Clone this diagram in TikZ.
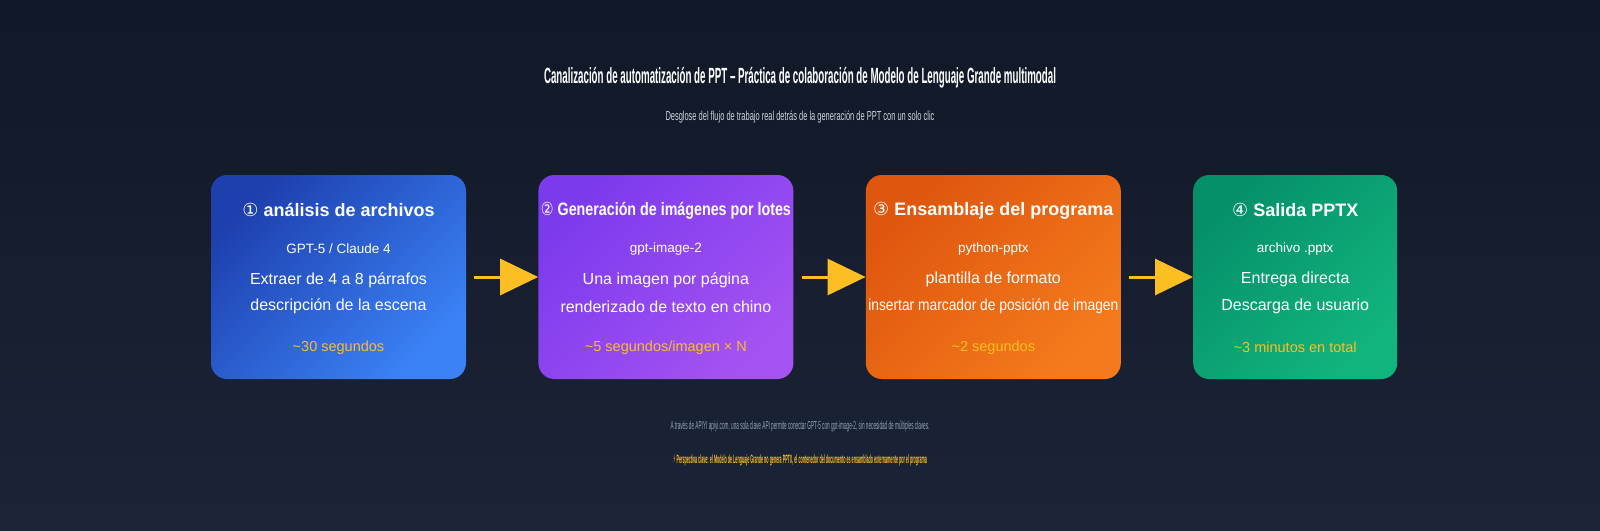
\documentclass[tikz,border=0pt]{standalone}
\usepackage{fontspec}
\setmainfont{Liberation Sans}
\newfontfamily\symfont{DejaVu Sans}
\usepackage{xcolor}
\usepackage{graphicx}
\usetikzlibrary{positioning,arrows.meta}
\definecolor{bgtop}{HTML}{111827}
\definecolor{bgbottom}{HTML}{1B2437}
\definecolor{blueA}{HTML}{1E40AF}
\definecolor{blueB}{HTML}{3B82F6}
\definecolor{purpleA}{HTML}{7C3AED}
\definecolor{purpleB}{HTML}{A452F2}
\definecolor{orangeA}{HTML}{DF560E}
\definecolor{orangeB}{HTML}{F47A1C}
\definecolor{greenA}{HTML}{05906A}
\definecolor{greenB}{HTML}{12B47E}
\definecolor{timecolor}{HTML}{FBBF24}
\definecolor{subcolor}{HTML}{CBD5E1}
\definecolor{notecolor}{HTML}{94A3B8}
% squeeze a line to a given width, height kept
\newcommand\squeeze[2]{\resizebox{#1}{\height}{#2}}
\newcommand\fitline[1]{\sbox0{#1}\ifdim\wd0>250pt \resizebox{250pt}{\height}{#1}\else #1\fi}
\newcommand\circnum[1]{{\symfont\mdseries #1}}
\tikzset{
    stage box/.style 2 args={rounded corners=16pt, minimum width=255pt, minimum height=204pt, inner sep=0pt, top color=#1, bottom color=#2, shading angle=45},
    stage title/.style={font=\bfseries\fontsize{18}{21}\selectfont, text=white},
    stage model/.style={font=\fontsize{13.5}{16}\selectfont, text=white!85},
    stage text/.style={font=\fontsize{16}{19}\selectfont, text=white},
    stage time/.style={font=\fontsize{14.5}{17}\selectfont, text=timecolor},
    flow arrow/.style={-{Triangle[length=38pt,width=36pt]}, line width=3pt, timecolor}
}

\begin{document}
\begin{tikzpicture}[x=1pt, y=-1pt]
    % Background
    \fill[top color=bgtop, bottom color=bgbottom] (0,0) rectangle (1600,530);

    % Heading
    \node[font=\bfseries\fontsize{22}{26}\selectfont, text=white] (title) at (800,78)
        {\squeeze{512pt}{Canalización de automatización de PPT -- Práctica de colaboración de Modelo de Lenguaje Grande multimodal}};
    \node[font=\fontsize{13}{15}\selectfont, text=subcolor] (subtitle) at (800,117)
        {\squeeze{269pt}{Desglose del flujo de trabajo real detrás de la generación de PPT con un solo clic}};

    % Stage boxes
    \node[stage box={blueA}{blueB}] (box1) at (338.5,277) {};
    \node[stage box={purpleA}{purpleB}, right=72pt of box1] (box2) {};
    \node[stage box={orangeA}{orangeB}, right=72pt of box2] (box3) {};
    \node[stage box={greenA}{greenB}, minimum width=204pt, right=72pt of box3] (box4) {};

    % Stage 1
    \node[stage title] (s1-title) at ([yshift=-35.5pt]box1.north) {\circnum{①} análisis de archivos};
    \node[stage model] (s1-model) at ([yshift=-74pt]box1.north) {GPT-5 / Claude 4};
    \node[stage text] (s1-a) at ([yshift=-105pt]box1.north) {Extraer de 4 a 8 párrafos};
    \node[stage text] (s1-b) at ([yshift=-131.5pt]box1.north) {descripción de la escena};
    \node[stage time] (s1-time) at ([yshift=-173pt]box1.north) {\textasciitilde30 segundos};

    % Stage 2
    \node[stage title] (s2-title) at ([yshift=-35.5pt]box2.north) {\fitline{\circnum{②} Generación de imágenes por lotes}};
    \node[stage model] (s2-model) at ([yshift=-74pt]box2.north) {gpt-image-2};
    \node[stage text] (s2-a) at ([yshift=-105pt]box2.north) {Una imagen por página};
    \node[stage text] (s2-b) at ([yshift=-131.5pt]box2.north) {\fitline{renderizado de texto en chino}};
    \node[stage time] (s2-time) at ([yshift=-173pt]box2.north) {\textasciitilde5 segundos/imagen × N};

    % Stage 3
    \node[stage title] (s3-title) at ([yshift=-35.5pt]box3.north) {\fitline{\circnum{③} Ensamblaje del programa}};
    \node[stage model] (s3-model) at ([yshift=-74pt]box3.north) {python-pptx};
    \node[stage text] (s3-a) at ([yshift=-105pt]box3.north) {plantilla de formato};
    \node[stage text] (s3-b) at ([yshift=-131.5pt]box3.north) {\fitline{insertar marcador de posición de imagen}};
    \node[stage time] (s3-time) at ([yshift=-173pt]box3.north) {\textasciitilde2 segundos};

    % Stage 4
    \node[stage title] (s4-title) at ([yshift=-35.5pt]box4.north) {\circnum{④} Salida PPTX};
    \node[stage model] (s4-model) at ([yshift=-74pt]box4.north) {archivo .pptx};
    \node[stage text] (s4-a) at ([yshift=-105pt]box4.north) {Entrega directa};
    \node[stage text] (s4-b) at ([yshift=-131.5pt]box4.north) {Descarga de usuario};
    \node[stage time] (s4-time) at ([yshift=-173pt]box4.north) {\textasciitilde3 minutos en total};

    % Flow arrows
    \draw[flow arrow] ([xshift=8pt]box1.east) -- (box2.west);
    \draw[flow arrow] ([xshift=8pt]box2.east) -- (box3.west);
    \draw[flow arrow] ([xshift=8pt]box3.east) -- (box4.west);

    % Notes
    \node[font=\fontsize{11.5}{13}\selectfont, text=notecolor] (note) at (800,426)
        {\squeeze{259pt}{A través de APIYI apiyi.com, una sola clave API permite conectar GPT-5 con gpt-image-2, sin necesidad de múltiples claves.}};
    \node[font=\bfseries\fontsize{12}{14}\selectfont, text=timecolor] (insight) at (800,460.5)
        {\squeeze{254pt}{{\symfont ⚡} Perspectiva clave: el Modelo de Lenguaje Grande no genera PPTX, el contenedor del documento es ensamblado externamente por el programa}};
\end{tikzpicture}
\end{document}
